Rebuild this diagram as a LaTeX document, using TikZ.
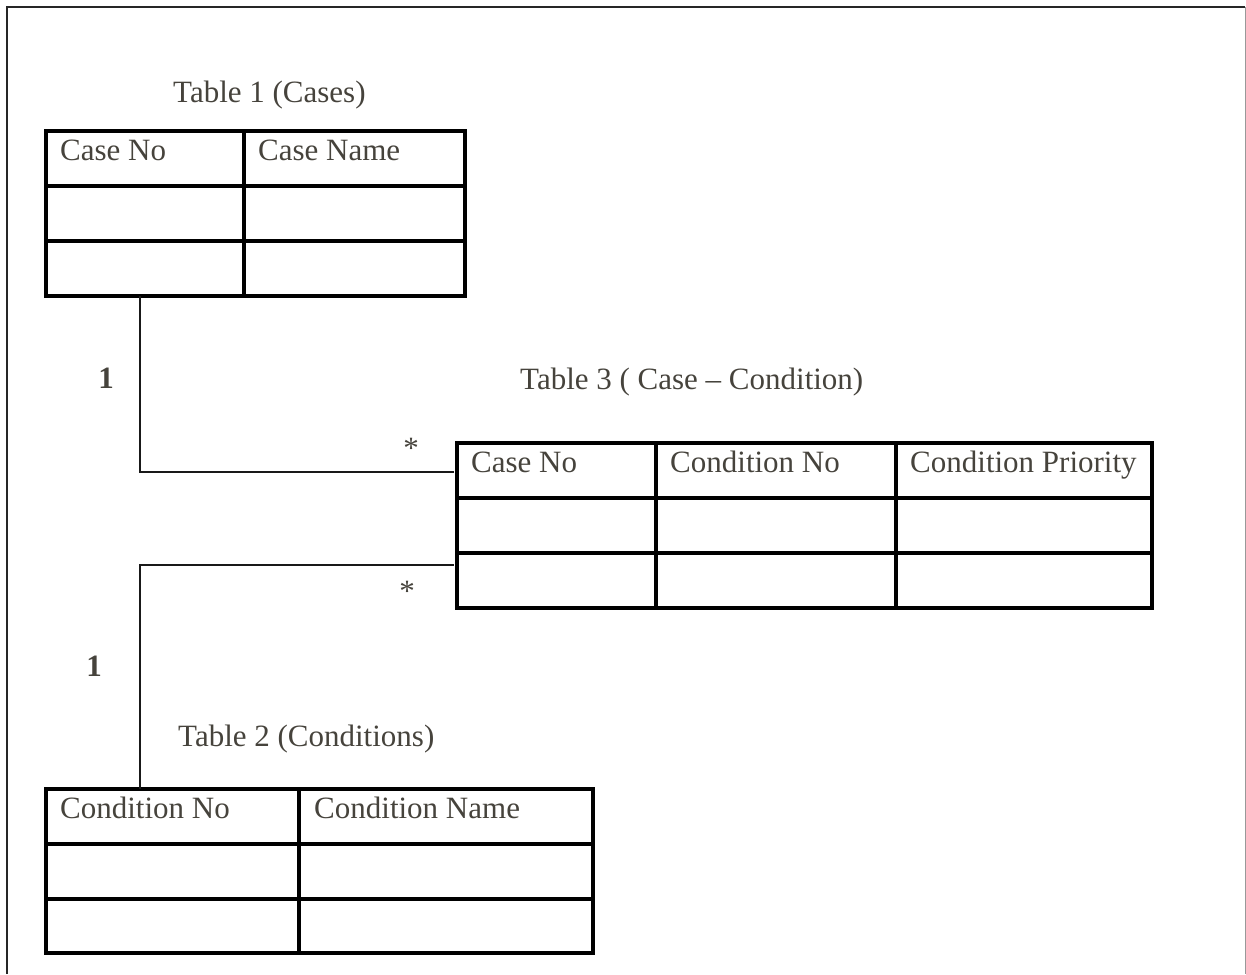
\documentclass[tikz,border=0pt]{standalone}
\usepackage{fontspec}
\setmainfont{Liberation Serif}
\definecolor{txt}{RGB}{70,67,60}
\begin{document}
\begin{tikzpicture}[x=1pt,y=-1pt,
  cell/.style={draw=black,line width=3.1pt,minimum width=#1,minimum height=55pt,anchor=north west,inner sep=0pt,outer sep=0pt},
  lbl/.style={anchor=base west,inner sep=0pt,text=txt,font=\fontsize{31}{36}\selectfont},
  mult/.style={anchor=base,inner sep=0pt,text=txt,font=\fontsize{31}{36}\selectfont},
  conn/.style={draw=black!90,line width=2.2pt},
  frame/.style={draw=black!85,line width=2.5pt}]
\useasboundingbox (0,0) rectangle (1246,974);
% outer frame
\coordinate (fbl) at (7,974);
\coordinate (ftl) at (7,7);
\coordinate (ftr) at (1245,7);
\coordinate (fbr) at (1245,974);
\draw[frame] (fbl) -- (ftl) -- (ftr);
\draw[draw=black!40,line width=1pt] (ftr) -- (fbr);

% Table 1 (Cases)
\node[lbl] (t1title) at (173,102) {Table 1 (Cases)};
\node[cell=198pt] (t1a1) at (46,131) {};
\node[cell=221pt] (t1b1) at (244,131) {};
\node[cell=198pt] (t1a2) at (46,186) {};
\node[cell=221pt] (t1b2) at (244,186) {};
\node[cell=198pt] (t1a3) at (46,241) {};
\node[cell=221pt] (t1b3) at (244,241) {};
\node[lbl] (t1h1) at (60,160) {Case No};
\node[lbl] (t1h2) at (258,160) {Case Name};

% Table 3 (Case - Condition)
\node[lbl] (t3title) at (520,389) {Table 3 ( Case – Condition)};
\node[cell=199pt] (t3a1) at (457,443) {};
\node[cell=240pt] (t3b1) at (656,443) {};
\node[cell=256pt] (t3c1) at (896,443) {};
\node[cell=199pt] (t3a2) at (457,498) {};
\node[cell=240pt] (t3b2) at (656,498) {};
\node[cell=256pt] (t3c2) at (896,498) {};
\node[cell=199pt] (t3a3) at (457,553) {};
\node[cell=240pt] (t3b3) at (656,553) {};
\node[cell=256pt] (t3c3) at (896,553) {};
\node[lbl] (t3h1) at (471,472) {Case No};
\node[lbl] (t3h2) at (670,472) {Condition No};
\node[lbl] (t3h3) at (910,472) {Condition Priority};

% Table 2 (Conditions)
\node[lbl] (t2title) at (178,746) {Table 2 (Conditions)};
\node[cell=253pt] (t2a1) at (46,789) {};
\node[cell=294pt] (t2b1) at (299,789) {};
\node[cell=253pt] (t2a2) at (46,844) {};
\node[cell=294pt] (t2b2) at (299,844) {};
\node[cell=253pt,minimum height=54pt] (t2a3) at (46,899) {};
\node[cell=294pt,minimum height=54pt] (t2b3) at (299,899) {};
\node[lbl] (t2h1) at (60,818) {Condition No};
\node[lbl] (t2h2) at (314,818) {Condition Name};

% connectors
\coordinate (p1) at (140,296);
\coordinate (q1) at (454,472);
\coordinate (p2) at (140,789);
\coordinate (q2) at (454,565);
\draw[conn] (p1) |- (q1);
\draw[conn] (p2) |- (q2);

% multiplicities
\node[mult,font=\fontsize{31}{36}\selectfont\bfseries] (m1a) at (106,388) {1};
\node[mult] (m1b) at (411,458) {*};
\node[mult] (m2b) at (407,601) {*};
\node[mult,font=\fontsize{31}{36}\selectfont\bfseries] (m2a) at (94,676) {1};
\end{tikzpicture}
\end{document}
